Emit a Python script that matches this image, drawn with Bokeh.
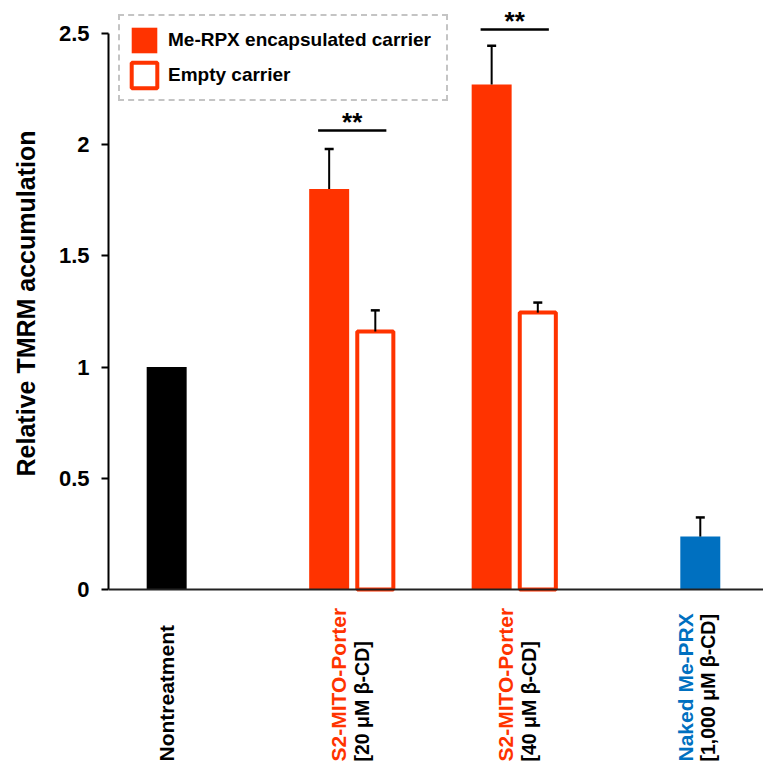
import math
from bokeh.plotting import figure
from bokeh.layouts import column
from bokeh.models import (Range1d, FixedTicker, NumeralTickFormatter, ColumnDataSource,
                          Whisker, TeeHead, Legend, LegendItem, Span)
from bokeh.core.properties import value
from bokeh.embed import file_html
from bokeh.resources import INLINE

# ---------------- data ----------------
group_labels_main = ["Nontreatment", "S2-MITO-Porter", "S2-MITO-Porter", "Naked Me-PRX"]
group_labels_sub = ["", "[20 \u03bcM \u03b2-CD]", "[40 \u03bcM \u03b2-CD]", "[1,000 \u03bcM \u03b2-CD]"]
group_pos = [1, 2, 3, 4]

nontreat_val = [1.00]

encap_groups = [2, 3]
encap_val = [1.80, 2.27]
encap_err = [0.18, 0.175]

empty_groups = [2, 3]
empty_val = [1.16, 1.245]
empty_err = [0.095, 0.045]

naked_val = [0.238]
naked_err = [0.086]

sig_groups = [2, 3]
sig_level = [2.064, 2.518]
sig_text = ["**", "**"]

y_ticks = [0, 0.5, 1, 1.5, 2, 2.5]
y_title = "Relative TMRM accumulation"

# ---------------- style ----------------
RED = "#FF3300"
BLUE = "#0070C0"
FONT = "Liberation Sans"
slot = 0.142
bw = 0.246
bw_hollow = 0.222
y_split = -0.0764          # boundary between plot area and label strip
label_y = -0.7734

x_range = Range1d(0.5, 4.531)

p = figure(width=763, height=606, x_range=x_range, y_range=Range1d(y_split, 2.648),
           output_backend="svg", toolbar_location=None,
           min_border_left=108, min_border_right=0, min_border_top=0, min_border_bottom=0)
p.outline_line_color = None
p.xgrid.visible = False
p.ygrid.visible = False
p.xaxis.visible = False
p.background_fill_color = "white"
p.border_fill_color = "white"

# x axis line at zero
p.add_layout(Span(location=0, dimension="width", line_color="#222222", line_width=2))

# bars
r_non = p.vbar(x=[group_pos[0] - slot], top=nontreat_val, width=bw, bottom=0,
               fill_color="black", line_color=None)
r_enc = p.vbar(x=[g - slot for g in encap_groups], top=encap_val, width=bw, bottom=0,
               fill_color=RED, line_color=None)
r_emp = p.vbar(x=[g + slot for g in empty_groups], top=empty_val, width=bw_hollow, bottom=0,
               fill_color="white", line_color=RED, line_width=4)
r_nak = p.vbar(x=[group_pos[3] + slot], top=naked_val, width=bw, bottom=0,
               fill_color=BLUE, line_color=None)

# error bars (upper only)
err_x = [g - slot for g in encap_groups] + [g + slot for g in empty_groups] + [group_pos[3] + slot]
err_base = encap_val + empty_val + naked_val
err_d = encap_err + empty_err + naked_err
err_src = ColumnDataSource(dict(x=err_x, lower=err_base,
                                upper=[b + e for b, e in zip(err_base, err_d)]))
wh = Whisker(source=err_src, base="x", lower="lower", upper="upper", dimension="height",
             line_color="black", line_width=2, lower_head=None,
             upper_head=TeeHead(size=9, line_width=2.5, line_color="black"), level="overlay")
p.add_layout(wh)

# significance
p.segment(x0=[g - 0.21 for g in sig_groups], x1=[g + 0.21 for g in sig_groups],
          y0=sig_level, y1=sig_level, line_color="black", line_width=2.5)
p.text(x=sig_groups, y=sig_level, text=sig_text, text_align="center",
       text_baseline="alphabetic", y_offset=-8,
       text_font=value(FONT), text_font_style="bold", text_font_size="26px", text_color="black")

# y axis
yax = p.yaxis[0]
yax.bounds = (0, 2.5)
yax.ticker = FixedTicker(ticks=y_ticks)
yax.formatter = NumeralTickFormatter(format="0.[0]")
yax.minor_tick_line_color = None
yax.major_tick_in = 0
yax.major_tick_out = 7
yax.major_tick_line_width = 2
yax.major_tick_line_color = "black"
yax.axis_line_width = 2
yax.axis_line_color = "black"
yax.major_label_text_font = FONT
yax.major_label_text_font_style = "bold"
yax.major_label_text_font_size = "22px"
yax.major_label_text_color = "black"
yax.major_label_standoff = 12
yax.axis_label = y_title
yax.axis_label_text_font = FONT
yax.axis_label_text_font_style = "bold"
yax.axis_label_text_font_size = "25px"
yax.axis_label_text_color = "black"
yax.axis_label_standoff = 16

# legend
legend = Legend(items=[LegendItem(label="Me-RPX encapsulated carrier", renderers=[r_enc]),
                       LegendItem(label="Empty carrier", renderers=[r_emp])],
                location=(10, 505), orientation="vertical",
                glyph_width=32, glyph_height=32, label_standoff=8, spacing=3, padding=8,
                label_width=270,
                label_text_font=FONT, label_text_font_style="bold", label_text_font_size="19px",
                label_text_color="black", label_height=32,
                border_line_color="#8a8a8a", border_line_dash="2 2", border_line_width=2,
                background_fill_color="white", background_fill_alpha=1.0)
p.add_layout(legend)

# ---------------- category label strip ----------------
p2 = figure(width=763, height=156, x_range=x_range, y_range=Range1d(-0.778, y_split),
            output_backend="svg", toolbar_location=None,
            min_border_left=108, min_border_right=0, min_border_top=0, min_border_bottom=0)
p2.outline_line_color = None
p2.xgrid.visible = False
p2.ygrid.visible = False
p2.xaxis.visible = False
p2.yaxis.visible = False
p2.background_fill_color = "white"
p2.border_fill_color = "white"

anchors = [group_pos[0] - slot, group_pos[1] - 0.015, group_pos[2] + 0.012, group_pos[3] + 0.117]
main_colors = ["black", RED, RED, BLUE]
main_x, main_off, main_txt, main_col = [], [], [], []
sub_x, sub_txt = [], []
for i in range(4):
    has_sub = group_labels_sub[i] != ""
    main_x.append(anchors[i])
    main_off.append(-11 if has_sub else 0)
    main_txt.append(group_labels_main[i])
    main_col.append(main_colors[i])
    if has_sub:
        sub_x.append(anchors[i])
        sub_txt.append(group_labels_sub[i])

p2.text(x=main_x, y=[label_y] * len(main_x), text=main_txt, x_offset=main_off,
        text_color=main_col, angle=math.pi / 2, text_align="left", text_baseline="middle",
        text_font=value(FONT), text_font_style="bold", text_font_size="21px")
p2.text(x=sub_x, y=[label_y] * len(sub_x), text=sub_txt, x_offset=12,
        text_color="black", angle=math.pi / 2, text_align="left", text_baseline="middle",
        text_font=value(FONT), text_font_style="bold", text_font_size="19.5px")

layout = column(p, p2, spacing=0)
open("out.html", "w").write(file_html(layout, INLINE))
